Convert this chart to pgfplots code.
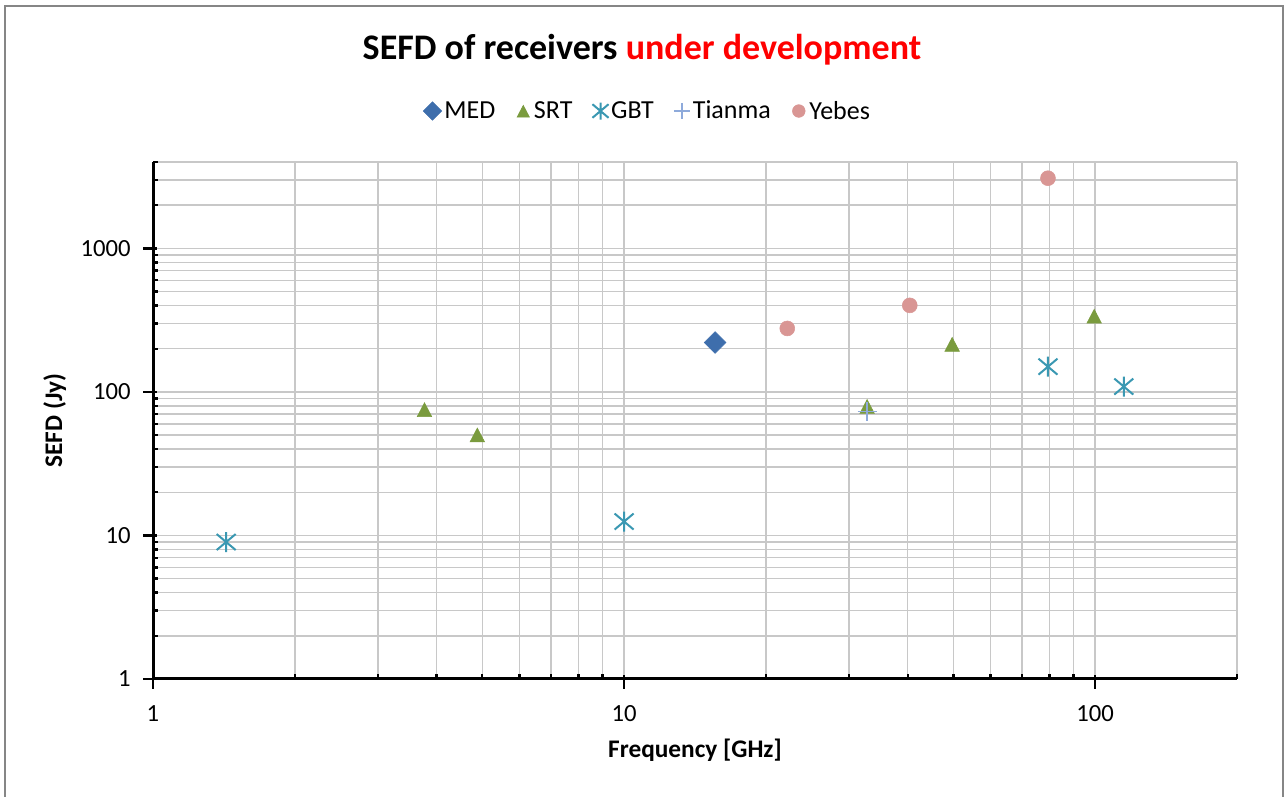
\documentclass[border=0pt]{standalone}
\usepackage{fontspec}
\setmainfont{Carlito}
\usepackage{pgfplots}
\pgfplotsset{compat=1.18}
\definecolor{medc}{RGB}{62,110,172}
\definecolor{srtc}{RGB}{122,155,62}
\definecolor{gbtc}{RGB}{58,152,178}
\definecolor{tianc}{RGB}{142,170,219}
\definecolor{yebc}{RGB}{217,150,148}
\definecolor{gridc}{RGB}{200,200,200}
\definecolor{framec}{RGB}{134,134,134}
\pgfdeclareplotmark{xast}{%
 \pgfpathmoveto{\pgfqpoint{0pt}{\pgfplotmarksize}}\pgfpathlineto{\pgfqpoint{0pt}{-\pgfplotmarksize}}%
 \pgfpathmoveto{\pgfqpoint{-0.95\pgfplotmarksize}{0.8\pgfplotmarksize}}\pgfpathlineto{\pgfqpoint{0.95\pgfplotmarksize}{-0.8\pgfplotmarksize}}%
 \pgfpathmoveto{\pgfqpoint{-0.95\pgfplotmarksize}{-0.8\pgfplotmarksize}}\pgfpathlineto{\pgfqpoint{0.95\pgfplotmarksize}{0.8\pgfplotmarksize}}%
 \pgfusepathqstroke}
\begin{document}
\begin{tikzpicture}
\useasboundingbox (0,0) rectangle (963.75pt,597pt);
\draw[framec, line width=1.5pt] (3.75pt,-2pt) -- (3.75pt,592.5pt) -- (962.25pt,592.5pt) -- (962.25pt,-2pt);
\node[anchor=base, font=\fontsize{27}{32}\selectfont\bfseries] at (481.5pt,552pt) {SEFD of receivers \textcolor{red}{under development}};
\begin{axis}[
  at={(114.75pt,87.75pt)}, anchor=south west,
  scale only axis, width=813pt, height=387.75pt,
  xmode=log, ymode=log,
  xmin=1, xmax=200, ymin=1, ymax=4000,
  axis x line*=bottom, axis y line*=left,
  axis line style={black, line width=2.25pt},
  xtick={1,10,100}, xticklabels={1,10,100},
  ytick={1,10,100,1000}, yticklabels={1,10,100,1000},
  minor xtick={2,3,4,5,6,7,8,9,20,30,40,50,60,70,80,90,200},
  minor ytick={2,3,4,5,6,7,8,9,20,30,40,50,60,70,80,90,200,300,400,500,600,700,800,900,2000,3000,4000},
  grid=both,
  major grid style={gridc, line width=1.1pt},
  minor grid style={gridc, line width=1.1pt},
  tick align=inside,
  major tick length=3pt, minor tick length=4pt,
  tick style={black, line width=1.8pt},
  extra x ticks={1,10,100}, extra x tick labels={{},{},{}},
  extra x tick style={tick align=outside, major tick length=7.5pt, grid=none},
  extra y ticks={1,10,100,1000}, extra y tick labels={{},{},{},{}},
  extra y tick style={tick align=outside, major tick length=7.5pt, grid=none},
  /pgf/number format/assume math mode=true,
  ticklabel style={font=\fontsize{18.5}{22}\selectfont, inner sep=0pt},
  xticklabel style={anchor=base, yshift=-32.25pt},
  yticklabel style={anchor=east, xshift=-16.5pt},
  xlabel={Frequency [GHz]},
  ylabel={SEFD (Jy)},
  xlabel style={at={(axis description cs:0.5,-0.1528)}, anchor=base, font=\fontsize{19}{23}\selectfont\bfseries},
  ylabel style={at={(axis description cs:-0.0839,0.5)}, anchor=base, font=\fontsize{19}{23}\selectfont\bfseries},
  legend style={at={(0.4566,1.0986)}, anchor=center, draw=none, fill=none,
    legend columns=-1, font=\fontsize{19.5}{23}\selectfont,
    /tikz/every even column/.append style={column sep=13pt}},
  legend image code/.code={\path[draw=none,fill=none] (-6pt,-1pt) rectangle (6pt,1pt); \draw[#1, every mark/.append style={scale=0.85}] plot coordinates {(0pt,0pt)};},
]
\addplot[only marks, mark=square*, mark size=5.75pt, mark options={rotate=45, draw=medc, fill=medc}] coordinates {(15.6,221)};
\addlegendentry{MED}
\addplot[only marks, mark=triangle*, mark size=6.3pt, mark options={yshift=-1.6pt, yscale=1.1, draw=srtc, fill=srtc}] coordinates {(3.77,75) (4.88,50) (32.8,79) (49.7,214) (99.5,336)};
\addlegendentry{SRT}
\addplot[only marks, mark=xast, mark size=7.5pt, mark options={draw=gbtc, line width=1.5pt}] coordinates {(1.43,9.0) (10,12.5) (79.4,150) (115,109)};
\addlegendentry{GBT}
\addplot[only marks, mark=+, mark size=7.2pt, mark options={draw=tianc, line width=1.3pt}] coordinates {(32.8,73)};
\addlegendentry{Tianma}
\addplot[only marks, mark=*, mark size=5.6pt, mark options={draw=yebc, fill=yebc}] coordinates {(22.2,277) (40.4,401) (79.4,3084)};
\addlegendentry{Yebes}
\end{axis}
\end{tikzpicture}
\end{document}
